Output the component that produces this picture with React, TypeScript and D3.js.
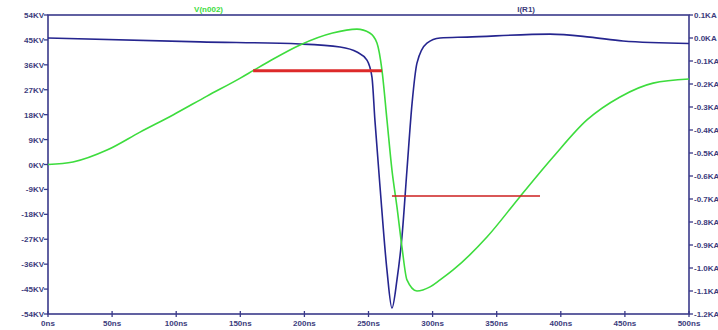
import React from "react";
import * as d3 from "d3";

const timeNs = [0, 19.5, 46, 71.8, 97.5, 124, 150, 160, 173, 196.6, 222, 241, 251, 256.6, 260.5, 264.4, 268.3, 272.2, 276.1, 280, 287.8, 298, 305.8, 316, 342.4, 368, 394, 420.4, 446.2, 472, 500];
const voltageKV = [0, 0.9, 5.2, 11.7, 17.9, 24.7, 31.2, 33.9, 37.4, 43.2, 47.5, 48.9, 47.5, 43.9, 34.1, 16.1, -2, -15.3, -29.8, -41.7, -45.7, -44.2, -41.7, -38.1, -26.2, -11.7, 2.7, 16.1, 24.4, 29.4, 30.9];

const currentTimeNs = [0, 118.6, 196.6, 227.8, 241, 248.8, 252.7, 255, 259, 264.4, 268.3, 272.2, 276.1, 280, 284, 287.8, 295.6, 305.8, 326.8, 391.6, 422.8, 448.5, 500];
const currentKA = [0, -0.017, -0.026, -0.039, -0.061, -0.096, -0.17, -0.357, -0.648, -1.009, -1.174, -1.052, -0.865, -0.574, -0.283, -0.109, -0.022, 0, 0.004, 0.017, 0.004, -0.013, -0.024];

const leftTicks = [54, 45, 36, 27, 18, 9, 0, -9, -18, -27, -36, -45, -54];
const rightTicks = [0.1, 0, -0.1, -0.2, -0.3, -0.4, -0.5, -0.6, -0.7, -0.8, -0.9, -1.0, -1.1, -1.2];
const timeTicks = [0, 50, 100, 150, 200, 250, 300, 350, 400, 450, 500];

// red marker segments: [t0, t1, V]
const markerA = [160, 260.5, 33.9];
const markerB = [268.3, 383.8, -11.4];

const W = 718, H = 330;
const L = 48, R = 689, T = 15, B = 314;
const AXIS = "#3a3a8a";
const TEXT = "#3c3c7c";
const GREEN = "#3ddc3d";
const BLUE = "#25258f";
const FONT = "'Liberation Sans', Arial, sans-serif";

export default function App() {
  const x = d3.scaleLinear().domain([0, 500]).range([L, R]);
  const yV = d3.scaleLinear().domain([-54, 54]).range([B, T]);
  const yI = d3.scaleLinear().domain([-1.2, 0.1]).range([B, T]);

  const vLine = d3.line<number>().x((_, i) => x(timeNs[i])).y((d) => yV(d)).curve(d3.curveMonotoneX);
  const iLine = d3.line<number>().x((_, i) => x(currentTimeNs[i])).y((d) => yI(d)).curve(d3.curveMonotoneX);

  const fmtV = (v: number) => `${v}KV`;
  const fmtI = (v: number) => `${v.toFixed(1)}KA`;

  return (
    <svg width={W} height={H} style={{ position: "absolute", left: 0, top: 0, background: "#fff" }} fontFamily={FONT}>
      <rect x={0} y={0} width={W} height={H} fill="#fff" />
      {/* trace labels */}
      <text x={223} y={12} textAnchor="end" fontSize={8} fontWeight="bold" fill={GREEN}>V(n002)</text>
      <text x={535} y={12} textAnchor="end" fontSize={8} fontWeight="bold" fill={TEXT}>I(R1)</text>

      {/* frame */}
      <rect x={L} y={T} width={R - L} height={B - T} fill="none" stroke={AXIS} strokeWidth={1.6} />

      {/* left axis */}
      {leftTicks.map((v) => (
        <g key={"l" + v}>
          <line x1={L - 4} x2={L} y1={yV(v)} y2={yV(v)} stroke={AXIS} strokeWidth={1.3} />
          <text x={L - 4} y={yV(v) + 3} textAnchor="end" fontSize={8} fontWeight="bold" fill={TEXT}>{fmtV(v)}</text>
        </g>
      ))}
      {/* right axis */}
      {rightTicks.map((v) => (
        <g key={"r" + v}>
          <line x1={R} x2={R + 4} y1={yI(v)} y2={yI(v)} stroke={AXIS} strokeWidth={1.3} />
          <text x={R + 5} y={yI(v) + 3} textAnchor="start" fontSize={8} fontWeight="bold" fill={TEXT}>{fmtI(v)}</text>
        </g>
      ))}
      {/* bottom axis */}
      {timeTicks.map((t) => (
        <g key={"b" + t}>
          <line x1={x(t)} x2={x(t)} y1={B - 3} y2={B + 3} stroke={AXIS} strokeWidth={1.3} />
          <text x={x(t)} y={B + 12} textAnchor="middle" fontSize={8} fontWeight="bold" fill={TEXT}>{`${t}ns`}</text>
        </g>
      ))}

      {/* traces */}
      <path d={iLine(currentKA) || ""} fill="none" stroke={BLUE} strokeWidth={1.6} />
      <path d={vLine(voltageKV) || ""} fill="none" stroke={GREEN} strokeWidth={1.6} />

      {/* red markers */}
      <line x1={x(markerA[0])} x2={x(markerA[1])} y1={yV(markerA[2])} y2={yV(markerA[2])} stroke="#dd2a2a" strokeWidth={3} />
      <line x1={x(markerB[0])} x2={x(markerB[1])} y1={yV(markerB[2])} y2={yV(markerB[2])} stroke="#cc1f1f" strokeWidth={1.6} />
    </svg>
  );
}
